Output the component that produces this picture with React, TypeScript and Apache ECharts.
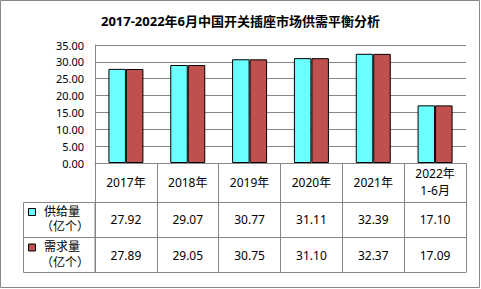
import React, { useEffect, useRef } from "react";
import * as echarts from "echarts";

const chartTitle = "2017-2022年6月中国开关插座市场供需平衡分析";
const categories = ["2017年", "2018年", "2019年", "2020年", "2021年", "2022年\n1-6月"];
const supply = [27.92, 29.07, 30.77, 31.11, 32.39, 17.1];
const demand = [27.89, 29.05, 30.75, 31.1, 32.37, 17.09];
const seriesNames = ["供给量", "需求量"];
const unitText = "（亿个）";
const yMin = 0;
const yMax = 35;
const yStep = 5;

const CYAN = "#6BFFFF";
const RED = "#C0504D";
const GRAY = "#878787";
const FONT = "'Noto Sans', 'Noto Sans CJK SC', sans-serif";

export default function App() {
  const ref = useRef<HTMLDivElement>(null);
  useEffect(() => {
    if (!ref.current) return;
    const chart = echarts.init(ref.current, null, { renderer: "svg" });
    const rowAxis = (offset: number, values: number[] | null, margin: number, idx: number) => ({
      type: "category" as const,
      gridIndex: 0,
      position: "bottom" as const,
      offset,
      data: categories,
      axisLine: { show: true, lineStyle: { color: GRAY, width: 1 } },
      axisTick: { show: false },
      splitLine: { show: false },
      axisLabel: {
        show: values !== null,
        interval: 0,
        margin,
        verticalAlign: "middle" as const,
        fontSize: 12,
        color: "#000",
        fontFamily: FONT,
        formatter: (_v: string, i: number) => (values ? values[i].toFixed(2) : ""),
      },
    });
    const legendCell = (top: number, color: string, name: string) => [
      {
        type: "rect",
        shape: { x: 28.5, y: top + 6.5, width: 7, height: 7 },
        style: { fill: color, stroke: "#000", lineWidth: 1 },
        silent: true,
      },
      {
        type: "text",
        x: 44,
        y: top + 9,
        style: { text: name, fontSize: 12, fontFamily: FONT, fill: "#000", verticalAlign: "middle", align: "left" },
        silent: true,
      },
      {
        type: "text",
        x: 41,
        y: top + 24.5,
        style: { text: unitText, fontSize: 12, fontFamily: FONT, fill: "#000", verticalAlign: "middle", align: "left" },
        silent: true,
      },
    ];
    chart.setOption({
      animation: false,
      backgroundColor: "#fff",
      title: {
        text: chartTitle,
        left: "center",
        top: 9,
        textStyle: { fontSize: 13, fontWeight: "bold", color: "#000", fontFamily: FONT },
      },
      grid: { left: 95, right: 15, top: 45, bottom: 126, containLabel: false },
      xAxis: [
        {
          type: "category",
          data: categories,
          position: "bottom",
          axisLine: { show: true, lineStyle: { color: GRAY, width: 1 } },
          axisTick: { show: true, inside: false, length: 109, interval: 0, alignWithLabel: false, lineStyle: { color: GRAY, width: 1 } },
          axisLabel: {
            interval: 0,
            margin: 19,
            verticalAlign: "middle",
            fontSize: 12,
            lineHeight: 17,
            color: "#000",
            fontFamily: FONT,
          },
          splitLine: { show: false },
        },
        rowAxis(39, supply, 17.5, 1),
        rowAxis(74, demand, 18, 2),
        rowAxis(109, null, 10, 3),
      ],
      yAxis: {
        type: "value",
        min: yMin,
        max: yMax,
        interval: yStep,
        axisLine: { show: true, lineStyle: { color: GRAY, width: 1 } },
        axisTick: { show: false },
        splitLine: { show: true, lineStyle: { color: GRAY, width: 1 } },
        axisLabel: {
          margin: 11,
          fontSize: 11,
          color: "#000",
          fontFamily: FONT,
          formatter: (v: number) => v.toFixed(2),
        },
      },
      series: [
        {
          name: seriesNames[0],
          type: "bar",
          data: supply,
          barWidth: 17.5,
          barGap: "0%",
          itemStyle: { color: CYAN, borderColor: "#000", borderWidth: 1 },
        },
        {
          name: seriesNames[1],
          type: "bar",
          data: demand,
          barWidth: 17.5,
          barGap: "0%",
          itemStyle: { color: RED, borderColor: "#000", borderWidth: 1 },
        },
      ],
      graphic: [
        {
          type: "rect",
          shape: { x: 0.5, y: 0.5, width: 479, height: 287 },
          style: { fill: "none", stroke: GRAY, lineWidth: 1 },
          silent: true,
          z: -1,
        },
        {
          type: "rect",
          shape: { x: 23.5, y: 202.5, width: 71.5, height: 70 },
          style: { fill: "none", stroke: GRAY, lineWidth: 1 },
          silent: true,
        },
        {
          type: "line",
          shape: { x1: 23.5, y1: 237.5, x2: 95, y2: 237.5 },
          style: { stroke: GRAY, lineWidth: 1 },
          silent: true,
        },
        ...legendCell(202, CYAN, seriesNames[0]),
        ...legendCell(237.5, RED, seriesNames[1]),
      ],
    });
    return () => chart.dispose();
  }, []);
  return (
    <div
      ref={ref}
      style={{ position: "fixed", left: 0, top: 0, width: 481, height: 289 }}
    />
  );
}
